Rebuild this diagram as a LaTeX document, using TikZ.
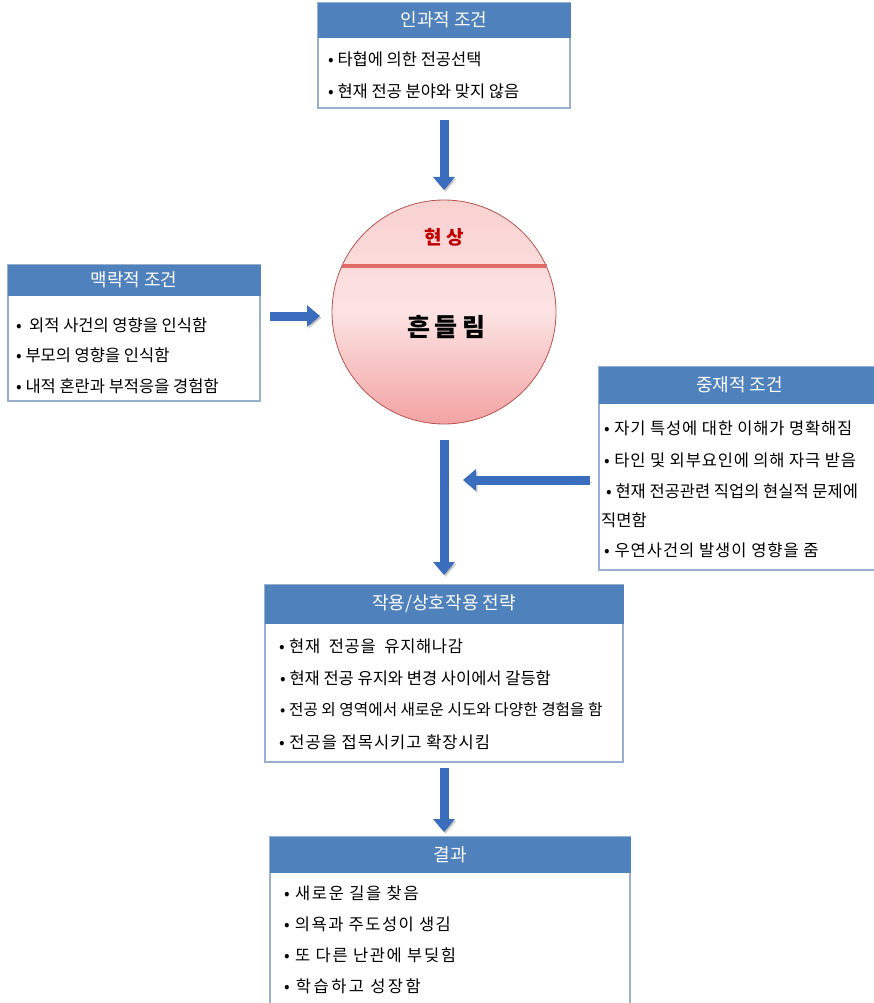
\documentclass[tikz,border=0pt]{standalone}
\usepackage{fontspec}
\setmainfont{Noto Sans CJK KR}
\usetikzlibrary{arrows.meta,calc}
\definecolor{hdr}{HTML}{4F81BD}
\definecolor{bdr}{HTML}{98B0CE}
\definecolor{arr}{HTML}{3A6DBE}
\definecolor{cbdr}{HTML}{B85450}
\definecolor{chord}{HTML}{E06A68}
\definecolor{phen}{HTML}{C00000}
\newcommand{\ls}[1]{\addfontfeature{LetterSpace=#1}}
\begin{document}
\begin{tikzpicture}[x=1pt,y=-1pt,
  bodybox/.style={draw=bdr, line width=1.4pt, fill=white, inner sep=0pt, outer sep=0pt},
  hdrbox/.style={fill=hdr, draw=hdr, line width=0.6pt, inner sep=0pt, outer sep=0pt, text=white, font=\fontsize{18}{21}\selectfont, anchor=north},
  item/.style={anchor=west, inner sep=0pt, font=\fontsize{16.5}{19}\selectfont},
  bigarrow/.style={draw=arr, line width=9pt, -{Triangle[length=13pt,width=21pt]},
    preaction={draw=black, opacity=0.18, transform canvas={shift={(1.5pt,-2pt)}}}}
]
\useasboundingbox (0,0) rectangle (873,1003);

% top box
\node[bodybox, minimum width=252pt, minimum height=105pt] (top) at (444,55.5) {};
\node[hdrbox, minimum width=252pt, minimum height=34pt] (toph) at (top.north) {인과적 조건};
\node[item] (t1) at (328,59) {• 타협에 의한 전공선택};
\node[item] (t2) at (328,91) {• 현재 전공 분야와 맞지 않음};

% left box
\node[bodybox, minimum width=252pt, minimum height=136pt] (lbox) at (134,333) {};
\node[hdrbox, minimum width=252pt, minimum height=30pt] (lboxh) at (lbox.north) {맥락적 조건};
\node[item] (l1) at (16,325) {•\ \ 외적 사건의 영향을 인식함};
\node[item] (l2) at (16,355) {• 부모의 영향을 인식함};
\node[item] (l3) at (16,386) {• 내적 혼란과 부적응을 경험함};

% right box
\node[bodybox, minimum width=281pt, minimum height=203pt] (rbox) at (739.5,468.5) {};
\node[hdrbox, minimum width=281pt, minimum height=36pt] (rboxh) at (rbox.north) {중재적 조건};
\node[item, font=\fontsize{16.5}{19}\selectfont\ls{5}] (r1) at (604,428) {• 자기 특성에 대한 이해가 명확해짐};
\node[item, font=\fontsize{16.5}{19}\selectfont\ls{5}] (r2) at (604,460) {• 타인 및 외부요인에 의해 자극 받음};
\node[item] (r3) at (606,491) {• 현재 전공관련 직업의 현실적 문제에};
\node[item] (r4) at (601,520) {직면함};
\node[item, font=\fontsize{16.5}{19}\selectfont\ls{6}] (r5) at (604,550) {• 우연사건의 발생이 영향을 줌};

% middle box
\node[bodybox, minimum width=358pt, minimum height=177pt] (mbox) at (444,673.5) {};
\node[hdrbox, minimum width=358pt, minimum height=38pt] (mboxh) at (mbox.north) {작용/상호작용 전략};
\node[item, font=\fontsize{16.5}{19}\selectfont\ls{4}] (m1) at (279,646) {• 현재\ \ 전공을\ \ 유지해나감};
\node[item] (m2) at (280,678) {• 현재 전공 유지와 변경 사이에서 갈등함};
\node[item, font=\fontsize{15.7}{19}\selectfont] (m3) at (280,710) {• 전공 외 영역에서 새로운 시도와 다양한 경험을 함};
\node[item, font=\fontsize{16.5}{19}\selectfont\ls{6}] (m4) at (279,742) {• 전공을 접목시키고 확장시킴};

% bottom box
\node[bodybox, minimum width=360pt, minimum height=173pt] (bbox) at (450,923.5) {};
\node[hdrbox, minimum width=360pt, minimum height=35pt] (bboxh) at (bbox.north) {결과};
\node[item, font=\fontsize{16.5}{19}\selectfont\ls{10}] (b1) at (284,893) {• 새로운 길을 찾음};
\node[item, font=\fontsize{16.5}{19}\selectfont\ls{9}] (b2) at (284,924) {• 의욕과 주도성이 생김};
\node[item, font=\fontsize{16.5}{19}\selectfont\ls{10}] (b3) at (284,955) {• 또 다른 난관에 부딪힘};
\node[item, font=\fontsize{16.5}{19}\selectfont\ls{15}] (b4) at (284,986) {• 학습하고 성장함};

% circle
\node[circle, minimum size=224pt, inner sep=0pt, outer sep=0pt, draw=cbdr, line width=0.8pt,
  top color={rgb,255:red,249;green,208;blue,208}, bottom color={rgb,255:red,243;green,163;blue,163},
  middle color={rgb,255:red,252;green,227;blue,227}] (circ) at (444,312) {};
\draw[chord, line width=3.2pt] ($(circ.center)+(-102.5,-46)$) -- ($(circ.center)+(102.5,-46)$);
\node[text=phen, font=\fontsize{19}{22}\selectfont\bfseries] (phen) at (444,237) {현 상};
\node[font=\fontsize{25}{29}\selectfont\bfseries\ls{18}] (shake) at (446,327) {흔들림};

% arrows
\coordinate (a2y) at (0,316);
\coordinate (a4y) at (0,480);
\draw[bigarrow, shorten <=12pt, shorten >=10pt] (top.south) -- (circ.north);
\draw[bigarrow, shorten <=10pt, shorten >=12pt] (lbox.east |- a2y) -- (circ.west |- a2y);
\draw[bigarrow, shorten <=16pt, shorten >=10pt] (circ.south) -- (mbox.north);
\draw[bigarrow, shorten <=9pt, shorten >=19pt] (rbox.west |- a4y) -- (circ.south |- a4y);
\draw[bigarrow, shorten <=6pt, shorten >=5pt] (mbox.south) -- (mbox.south |- bbox.north);
\end{tikzpicture}
\end{document}
